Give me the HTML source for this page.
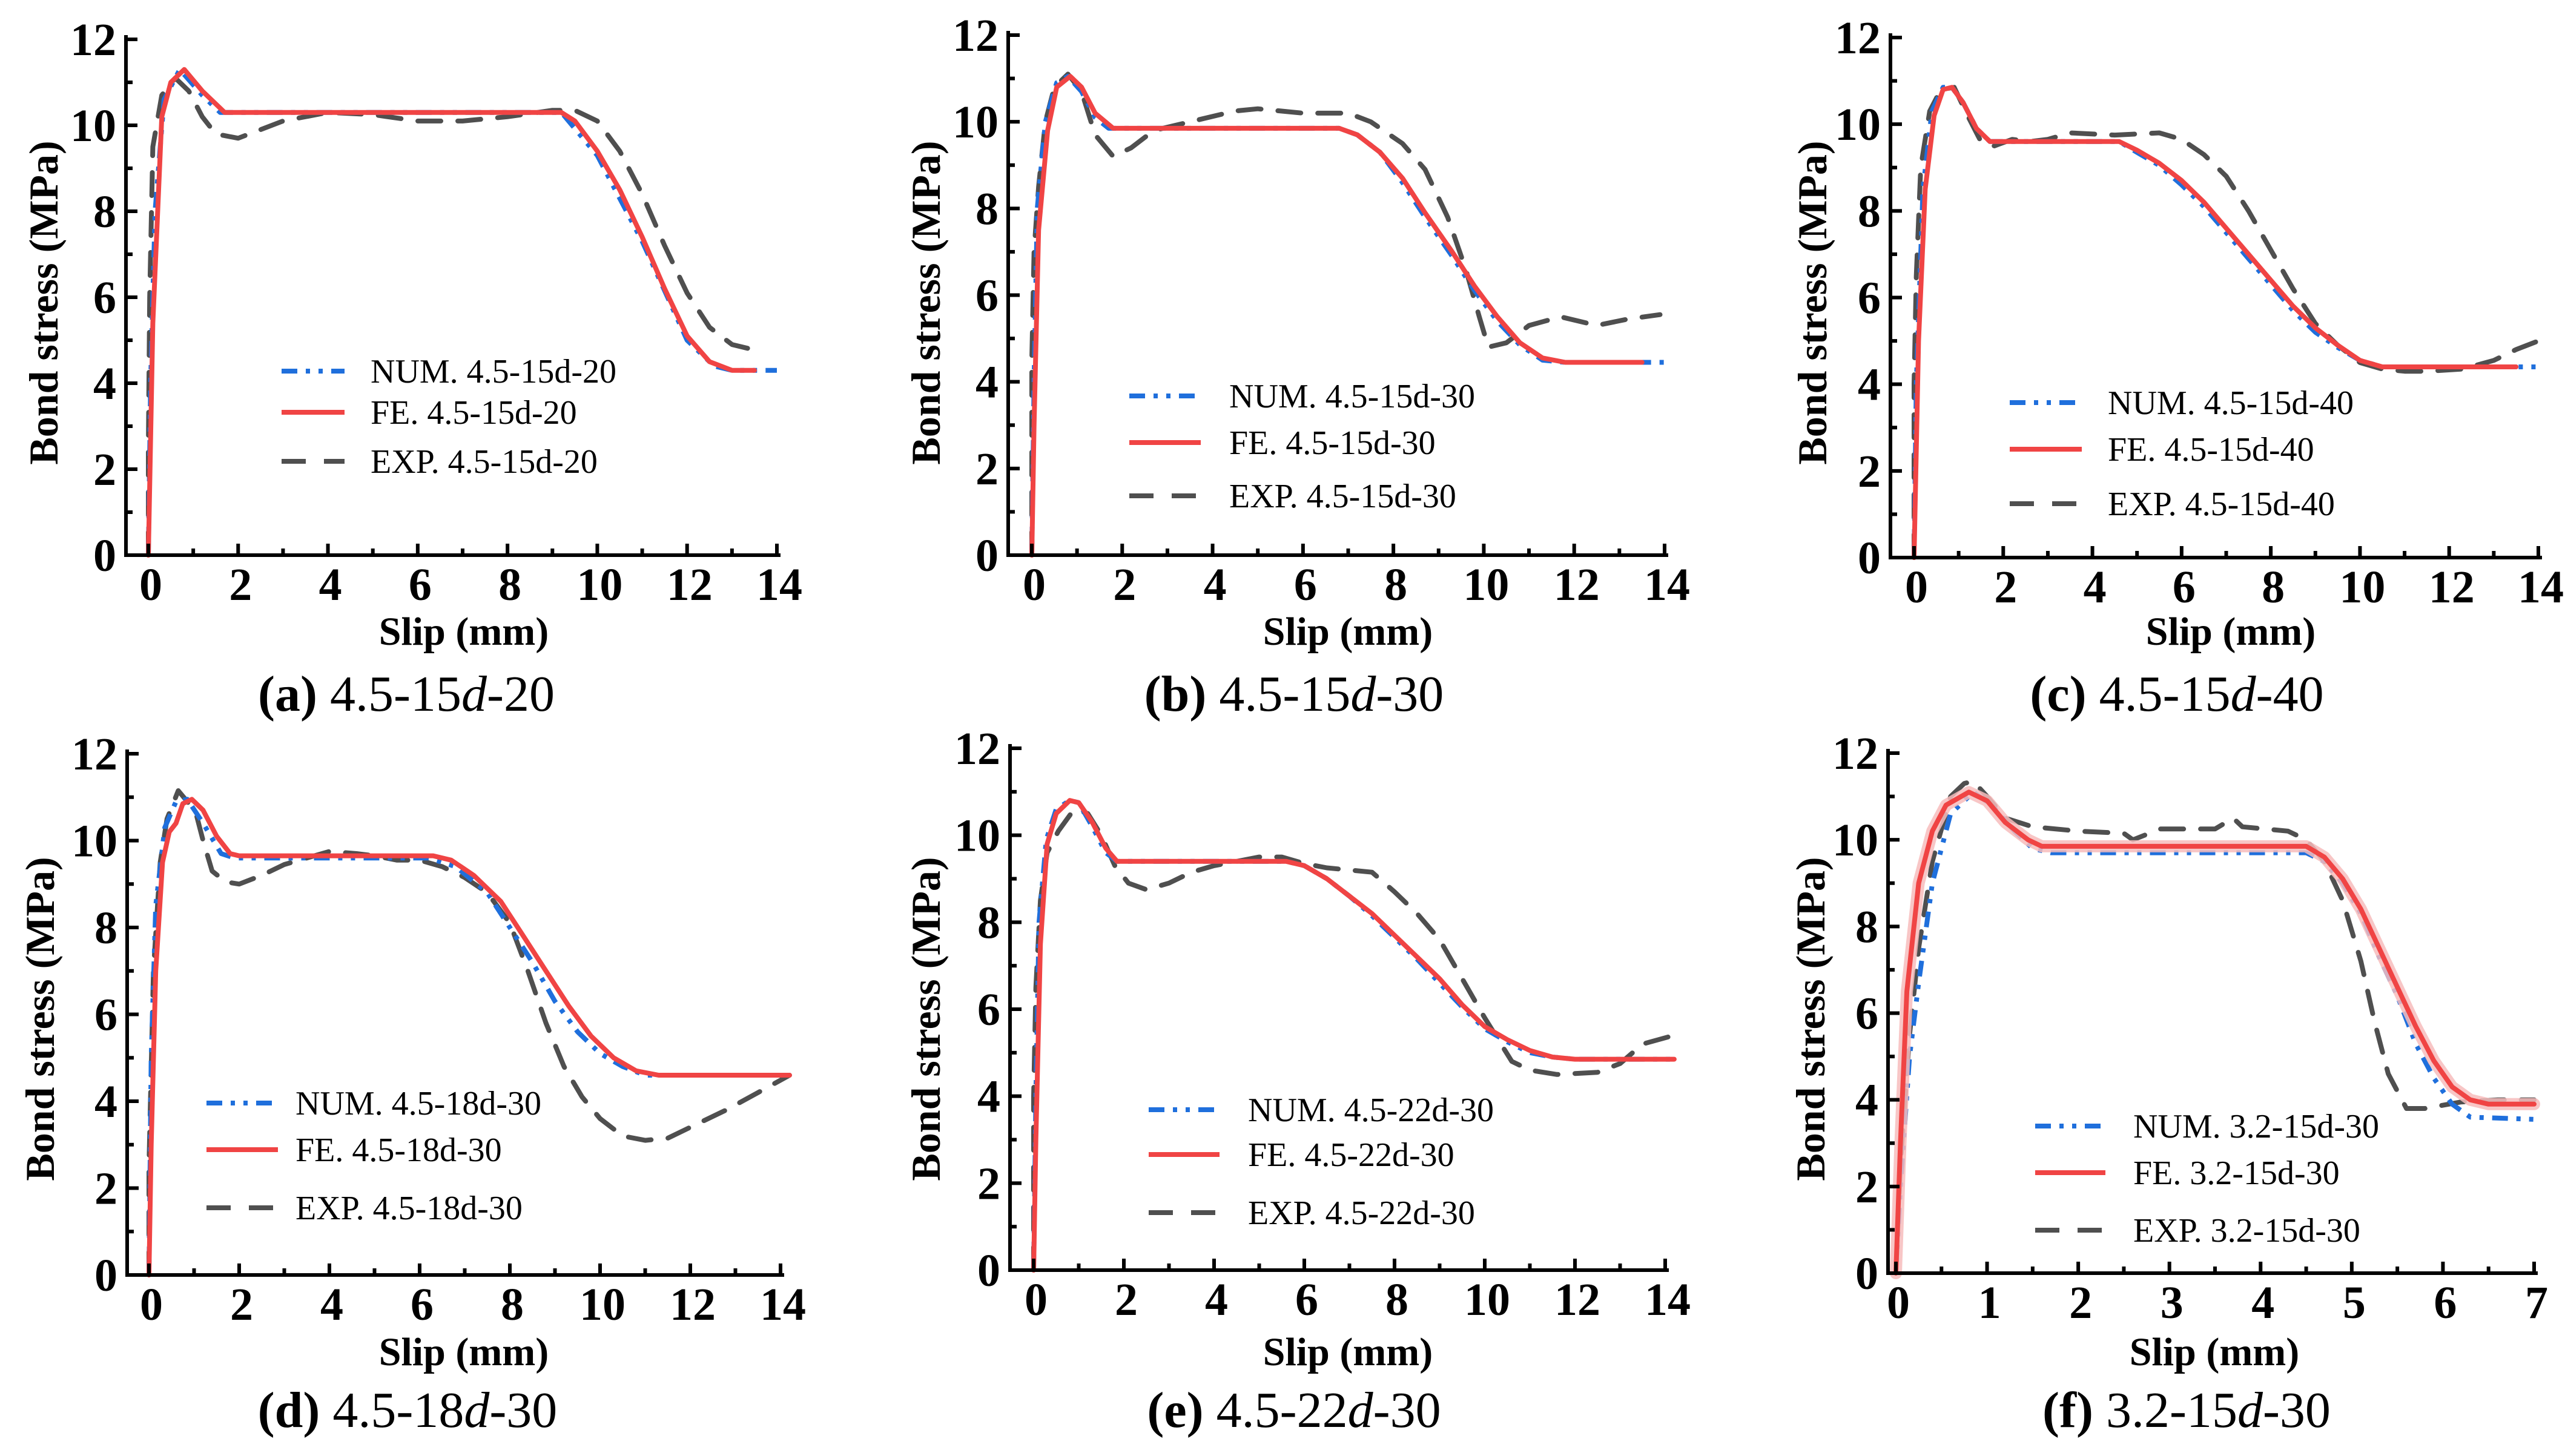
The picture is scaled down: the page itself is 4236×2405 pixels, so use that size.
<!DOCTYPE html>
<html><head><meta charset="utf-8">
<style>
html,body{margin:0;padding:0;background:#fff;}
svg{display:block;}
text{font-family:"Liberation Serif",serif;fill:#000;}
</style></head>
<body>
<svg id="fig" width="4236" height="2405" viewBox="0 0 4236 2405" xmlns="http://www.w3.org/2000/svg"></svg>
<script>
// ---- data (slip mm, bond stress MPa) ----
const a_num_x=[0,0.05,0.15,0.35,0.7,1.2,1.6,9.2,10,11,12,12.6,13,14];
const a_num_y=[0,4,8,10.6,11.3,10.7,10.3,10.3,9.3,7.3,5.0,4.4,4.3,4.3];
const a_fe_x=[0,0.1,0.3,0.5,0.8,1.2,1.7,9.2,9.5,10,10.5,11,11.5,12,12.5,13,13.5];
const a_fe_y=[0,5.4,10.2,11.0,11.3,10.8,10.3,10.3,10.1,9.4,8.5,7.4,6.2,5.1,4.5,4.3,4.3];
const a_exp_x=[0,0,0.03,0.1,0.3,0.6,0.9,1.2,1.5,2,2.5,3,4,5,6,7,8,9,9.5,10,10.5,11,11.5,12,12.5,13,13.6];
const a_exp_y=[0,2.5,6,9.5,10.7,11.1,10.8,10.2,9.8,9.7,9.9,10.1,10.3,10.25,10.1,10.1,10.2,10.35,10.35,10.1,9.4,8.4,7.2,6.1,5.3,4.9,4.75];

const b_num_x=[0,0.05,0.12,0.3,0.55,0.8,1.1,1.4,1.7,6.8,7.2,7.7,8.2,8.7,9.3,9.8,10.3,10.8,11.3,11.8,14];
const b_num_y=[0,4,8,10,10.9,11.05,10.7,10.1,9.85,9.85,9.7,9.3,8.6,7.8,6.9,6.1,5.4,4.85,4.5,4.45,4.45];
const b_fe_x=[0,0.05,0.15,0.35,0.55,0.85,1.1,1.4,1.8,6.8,7.2,7.7,8.2,8.7,9.3,9.8,10.3,10.8,11.3,11.8,13.5];
const b_fe_y=[0,3,7.5,9.8,10.8,11.05,10.8,10.2,9.85,9.85,9.7,9.3,8.7,7.9,7.0,6.2,5.5,4.9,4.55,4.45,4.45];
const b_exp_x=[0,0,0.05,0.15,0.3,0.5,0.8,1.1,1.4,1.8,2.2,2.7,3.5,4.5,5,6,7,7.5,8.2,8.7,9.2,9.6,9.9,10.1,10.5,11,11.7,12.5,13.2,13.9];
const b_exp_y=[0,4.5,7,8.5,10,10.8,11.1,10.7,9.7,9.2,9.4,9.8,10,10.25,10.3,10.2,10.2,10.0,9.5,8.9,7.8,6.6,5.5,4.8,4.9,5.3,5.5,5.3,5.45,5.55];

const c_num_x=[0,0.05,0.2,0.4,0.65,0.85,1.1,1.4,1.7,4.6,5,5.5,6,6.5,7,7.5,8,8.5,9,9.5,10,10.5,11,14];
const c_num_y=[0,4,8.5,10.3,10.85,10.85,10.5,9.9,9.6,9.6,9.35,9.05,8.6,8.1,7.5,6.9,6.3,5.7,5.2,4.85,4.55,4.4,4.4,4.4];
const c_fe_x=[0,0.1,0.25,0.45,0.65,0.85,1.1,1.4,1.7,4.6,5,5.5,6,6.5,7,7.5,8,8.5,9,9.5,10,10.5,11,13.5];
const c_fe_y=[0,5,8.5,10.2,10.8,10.85,10.5,9.9,9.6,9.6,9.4,9.1,8.7,8.2,7.6,7.0,6.4,5.8,5.3,4.9,4.55,4.4,4.4,4.4];
const c_exp_x=[0,0,0.05,0.15,0.35,0.6,0.9,1.2,1.5,1.8,2.2,2.6,3,3.5,4.5,5.5,6,6.5,7,7.5,8,8.5,9,9.5,10,10.5,11,11.5,12.3,13,13.5,14];
const c_exp_y=[0,4,6.5,9,10.3,10.8,10.85,10.2,9.6,9.5,9.65,9.6,9.65,9.8,9.75,9.8,9.65,9.3,8.8,8.0,7.1,6.2,5.4,4.9,4.5,4.35,4.3,4.3,4.35,4.55,4.8,5.0];

const d_num_x=[0,0.05,0.15,0.35,0.6,0.85,1.2,1.6,1.9,6.2,6.8,7.5,8,8.5,9,9.5,10,10.5,11,11.5,14.2];
const d_num_y=[0,5,8.5,10.3,10.9,10.95,10.4,9.7,9.6,9.6,9.4,8.8,8.0,7.2,6.3,5.6,5.1,4.8,4.6,4.6,4.6];
const d_fe_x=[0,0.05,0.15,0.3,0.45,0.6,0.75,0.95,1.2,1.5,1.8,2,6.3,6.7,7.2,7.8,8.3,8.8,9.3,9.8,10.3,10.8,11.3,14.2];
const d_fe_y=[0,3,7,9.5,10.2,10.4,10.85,10.95,10.7,10.1,9.7,9.65,9.65,9.55,9.2,8.6,7.8,7.0,6.2,5.5,5.0,4.7,4.6,4.6];
const d_exp_x=[0,0,0.1,0.25,0.4,0.65,0.85,1.05,1.2,1.4,1.7,2,2.5,3,3.5,4,4.6,5,5.5,6,6.5,7,7.5,8,8.4,8.8,9.2,9.6,10,10.5,11,11.5,12,12.8,13.5,14.2];
const d_exp_y=[0,2.5,7,9.5,10.5,11.15,10.9,10.6,10,9.3,9.05,9.0,9.2,9.45,9.6,9.75,9.7,9.65,9.55,9.55,9.4,9.15,8.8,8.1,7.0,5.8,4.8,4.1,3.6,3.2,3.1,3.15,3.4,3.8,4.2,4.6];

const e_num_x=[0,0.05,0.12,0.28,0.5,0.8,1,1.3,1.6,1.85,5.6,6,6.5,7,7.5,8,8.5,9,9.5,10,10.5,11,11.5,12,14.2];
const e_num_y=[0,4,8,9.9,10.6,10.8,10.75,10.2,9.6,9.4,9.4,9.3,9.0,8.6,8.15,7.65,7.15,6.6,6.05,5.55,5.25,5.0,4.9,4.85,4.85];
const e_fe_x=[0,0.05,0.15,0.3,0.5,0.8,1,1.3,1.6,1.85,5.6,6,6.5,7,7.5,8,8.5,9,9.5,10,10.5,11,11.5,12,14.2];
const e_fe_y=[0,3,7.5,9.8,10.5,10.8,10.75,10.3,9.7,9.4,9.4,9.3,9.0,8.6,8.2,7.7,7.2,6.7,6.1,5.6,5.3,5.05,4.9,4.85,4.85];
const e_exp_x=[0,0,0.05,0.15,0.3,0.55,0.9,1.2,1.5,1.8,2.1,2.5,3,3.5,4,4.5,5,5.5,6,6.5,7,7.5,8,8.5,9,9.5,10,10.3,10.6,11,11.6,12.5,13,13.5,14.2];
const e_exp_y=[0,4,6.5,8.5,9.6,10.1,10.6,10.5,10,9.3,8.9,8.75,8.9,9.15,9.3,9.4,9.5,9.5,9.35,9.25,9.2,9.15,8.7,8.2,7.6,6.7,5.8,5.3,4.8,4.6,4.5,4.55,4.75,5.2,5.4];

const f_num_x=[0,0.05,0.15,0.25,0.4,0.6,0.85,1.05,1.3,1.5,1.7,4.5,4.7,4.9,5.1,5.3,5.5,5.7,5.9,6.1,6.3,7];
const f_num_y=[0,2,5,6.7,9,10.6,11.1,10.8,10.2,9.8,9.7,9.7,9.5,9,8.3,7.3,6.4,5.3,4.5,3.9,3.6,3.55];
const f_fe_x=[0,0.05,0.12,0.25,0.4,0.55,0.8,1,1.2,1.45,1.6,4.5,4.7,4.9,5.1,5.3,5.5,5.7,5.9,6.1,6.3,6.5,7];
const f_fe_y=[0,3,6.5,9,10.2,10.8,11.1,10.9,10.4,10,9.85,9.85,9.6,9.1,8.4,7.5,6.6,5.7,4.9,4.3,4.0,3.9,3.9];
const f_exp_x=[0,0.05,0.15,0.25,0.4,0.6,0.75,0.85,1,1.2,1.5,2,2.5,2.6,2.9,3.5,3.7,3.8,4.3,4.5,4.7,4.9,5.1,5.25,5.4,5.6,5.8,6.2,6.6,7];
const f_exp_y=[0,2.5,5.5,7.5,9.5,11,11.3,11.35,11,10.5,10.3,10.2,10.15,10.0,10.25,10.25,10.5,10.3,10.2,10.0,9.5,8.6,7.2,5.8,4.6,3.8,3.8,3.95,4.0,4.0];

const yTicks=[0,2,4,6,8,10,12];
const xTicks14=[0,2,4,6,8,10,12,14];
const xTicks7=[0,1,2,3,4,5,6,7];

// ---- layout per panel ----
const panels=[
 {id:'a',axX:208,x0:245,x1:1283,xmax:14,xt:xTicks14,minorX:1,yb:917,yt:65,name:'4.5-15d-20',cap:['(a)','4.5-15','d','-20'],capX:671,capY:1146,titleX:766,titleY:1042,ytX:71,ytY:500,
  leg:{lx1:465,lx2:569,tx:612,ys:[613,681,762]},num:[a_num_x,a_num_y],fe:[a_fe_x,a_fe_y],exp:[a_exp_x,a_exp_y]},
 {id:'b',axX:1665,x0:1704,x1:2749,xmax:14,xt:xTicks14,minorX:1,yb:917,yt:58,name:'4.5-15d-30',cap:['(b)','4.5-15','d','-30'],capX:2137,capY:1146,titleX:2226,titleY:1042,ytX:1528,ytY:500,
  leg:{lx1:1865,lx2:1983,tx:2030,ys:[654,731,819]},num:[b_num_x,b_num_y],fe:[b_fe_x,b_fe_y],exp:[b_exp_x,b_exp_y]},
 {id:'c',axX:3122,x0:3161,x1:4192,xmax:14,xt:xTicks14,minorX:1,yb:921,yt:62,name:'4.5-15d-40',cap:['(c)','4.5-15','d','-40'],capX:3595,capY:1146,titleX:3684,titleY:1042,ytX:2992,ytY:500,
  leg:{lx1:3319,lx2:3438,tx:3481,ys:[665,742,832]},num:[c_num_x,c_num_y],fe:[c_fe_x,c_fe_y],exp:[c_exp_x,c_exp_y]},
 {id:'d',axX:210,x0:246,x1:1289,xmax:14,xt:xTicks14,minorX:1,yb:2106,yt:1245,name:'4.5-18d-30',cap:['(d)','4.5-18','d','-30'],capX:673,capY:2329,titleX:766,titleY:2232,ytX:65,ytY:1683,
  leg:{lx1:341,lx2:459,tx:488,ys:[1822,1899,1995]},num:[d_num_x,d_num_y],fe:[d_fe_x,d_fe_y],exp:[d_exp_x,d_exp_y]},
 {id:'e',axX:1668,x0:1707,x1:2750,xmax:14,xt:xTicks14,minorX:1,yb:2098,yt:1236,name:'4.5-22d-30',cap:['(e)','4.5-22','d','-30'],capX:2137,capY:2329,titleX:2226,titleY:2232,ytX:1528,ytY:1683,
  leg:{lx1:1897,lx2:2014,tx:2061,ys:[1833,1907,2003]},num:[e_num_x,e_num_y],fe:[e_fe_x,e_fe_y],exp:[e_exp_x,e_exp_y]},
 {id:'f',axX:3118,x0:3131,x1:4185,xmax:7,xt:xTicks7,minorX:0.5,yb:2103,yt:1244,name:'3.2-15d-30',cap:['(f)','3.2-15','d','-30'],capX:3611,capY:2329,titleX:3657,titleY:2232,ytX:2989,ytY:1683,halo:true,
  leg:{lx1:3361,lx2:3477,tx:3523,ys:[1860,1937,2032]},num:[f_num_x,f_num_y],fe:[f_fe_x,f_fe_y],exp:[f_exp_x,f_exp_y]}
];

const NS='http://www.w3.org/2000/svg';
const svg=document.getElementById('fig');
function mk(tag,attrs,parent){const e=document.createElementNS(NS,tag);for(const k in attrs)e.setAttribute(k,attrs[k]);(parent||svg).appendChild(e);return e;}

const STY={
 num:{stroke:'#1f6fdc',dash:'26 14 7 14 7 14',w:8,cap:'butt'},
 fe:{stroke:'#f04444',dash:'',w:8,cap:'round'},
 exp:{stroke:'#4f4f4f',dash:'38 28',w:8,cap:'round'}
};

panels.forEach(p=>{
  const g=mk('g',{});
  
  
  const sx=v=>p.x0+(v/p.xmax)*(p.x1-p.x0);
  const sy=v=>p.yb-(v/12)*(p.yb-p.yt);

  function path(key,arr){
    const xs=arr[0],ys=arr[1];
    let d='';
    for(let i=0;i<xs.length;i++){d+=(i?'L':'M')+sx(xs[i]).toFixed(1)+' '+sy(ys[i]).toFixed(1);}
    const s=STY[key];
    if(key==='fe'&&p.halo){
      const h=mk('path',{d:d,fill:'none',stroke:'#f7bcbc','stroke-width':20,'stroke-linejoin':'round','stroke-linecap':'round',opacity:0.85},g);
      
      
    }
    const e=mk('path',{d:d,fill:'none',stroke:s.stroke,'stroke-width':s.w,'stroke-linejoin':'round','stroke-linecap':s.cap},g);
    if(s.dash)e.setAttribute('stroke-dasharray',s.dash);
    
    
  }
  path('exp',p.exp);
  path('num',p.num);
  path('fe',p.fe);

  const ax=mk('path',{d:`M${p.axX} ${p.yt-4}L${p.axX} ${p.yb}L${p.x1+3} ${p.yb}`,fill:'none',stroke:'#000','stroke-width':6,'stroke-linecap':'square'},g);
  
  
  for(let v=0;v<=12;v+=1){
    const major=(v%2===0);
    const t=mk('line',{x1:p.axX,x2:p.axX+(major?19:11),y1:sy(v),y2:sy(v),stroke:'#000','stroke-width':6},g);
    
    
  }
  yTicks.forEach(v=>{
    const t=mk('text',{x:p.axX-16,y:sy(v)+26,'text-anchor':'end','font-size':76,'font-weight':'bold'},g);
    t.textContent=v;
    
    
  });
  for(let v=0;v<=p.xmax+1e-6;v+=p.minorX){
    const major=p.xt.some(q=>Math.abs(q-v)<1e-6);
    const t=mk('line',{x1:sx(v),x2:sx(v),y1:p.yb,y2:p.yb-(major?19:11),stroke:'#000','stroke-width':6},g);
    
    
  }
  p.xt.forEach(v=>{
    const t=mk('text',{x:sx(v)+4,y:p.yb+74,'text-anchor':'middle','font-size':76,'font-weight':'bold'},g);
    t.textContent=v;
    
    
  });
  const xt=mk('text',{x:p.titleX,y:p.titleY+23,'text-anchor':'middle','font-size':66,'font-weight':'bold'},g);
  xt.textContent='Slip (mm)';
  
  
  const yt=mk('text',{x:p.ytX,y:p.ytY,'text-anchor':'middle','font-size':68,'font-weight':'bold',transform:`rotate(-90 ${p.ytX} ${p.ytY}) translate(0 24)`},g);
  yt.textContent='Bond stress (MPa)';
  
  
  const cp=mk('text',{x:p.capX,y:p.capY+28,'text-anchor':'middle','font-size':84},g);
  
  
  const t1=mk('tspan',{'font-weight':'bold'},cp);t1.textContent='('+p.cap[0].slice(1,-1)+')';
  const t2=mk('tspan',{},cp);t2.textContent=' '+p.cap[1];
  const t3=mk('tspan',{'font-style':'italic'},cp);t3.textContent=p.cap[2];
  const t4=mk('tspan',{},cp);t4.textContent=p.cap[3];
  const keys=['num','fe','exp'];const labels=['NUM. ','FE. ','EXP. '];
  keys.forEach((k,i)=>{
    const y=p.leg.ys[i];const s=STY[k];
    const l=mk('line',{x1:p.leg.lx1,x2:p.leg.lx2,y1:y,y2:y,stroke:s.stroke,'stroke-width':s.w},g);
    if(s.dash)l.setAttribute('stroke-dasharray',k==='exp'?'40 30':s.dash);
    
    
    const t=mk('text',{x:p.leg.tx,y:y+19,'font-size':56},g);
    t.textContent=labels[i]+p.name;
    
    
  });
});
</script>
</body></html>
